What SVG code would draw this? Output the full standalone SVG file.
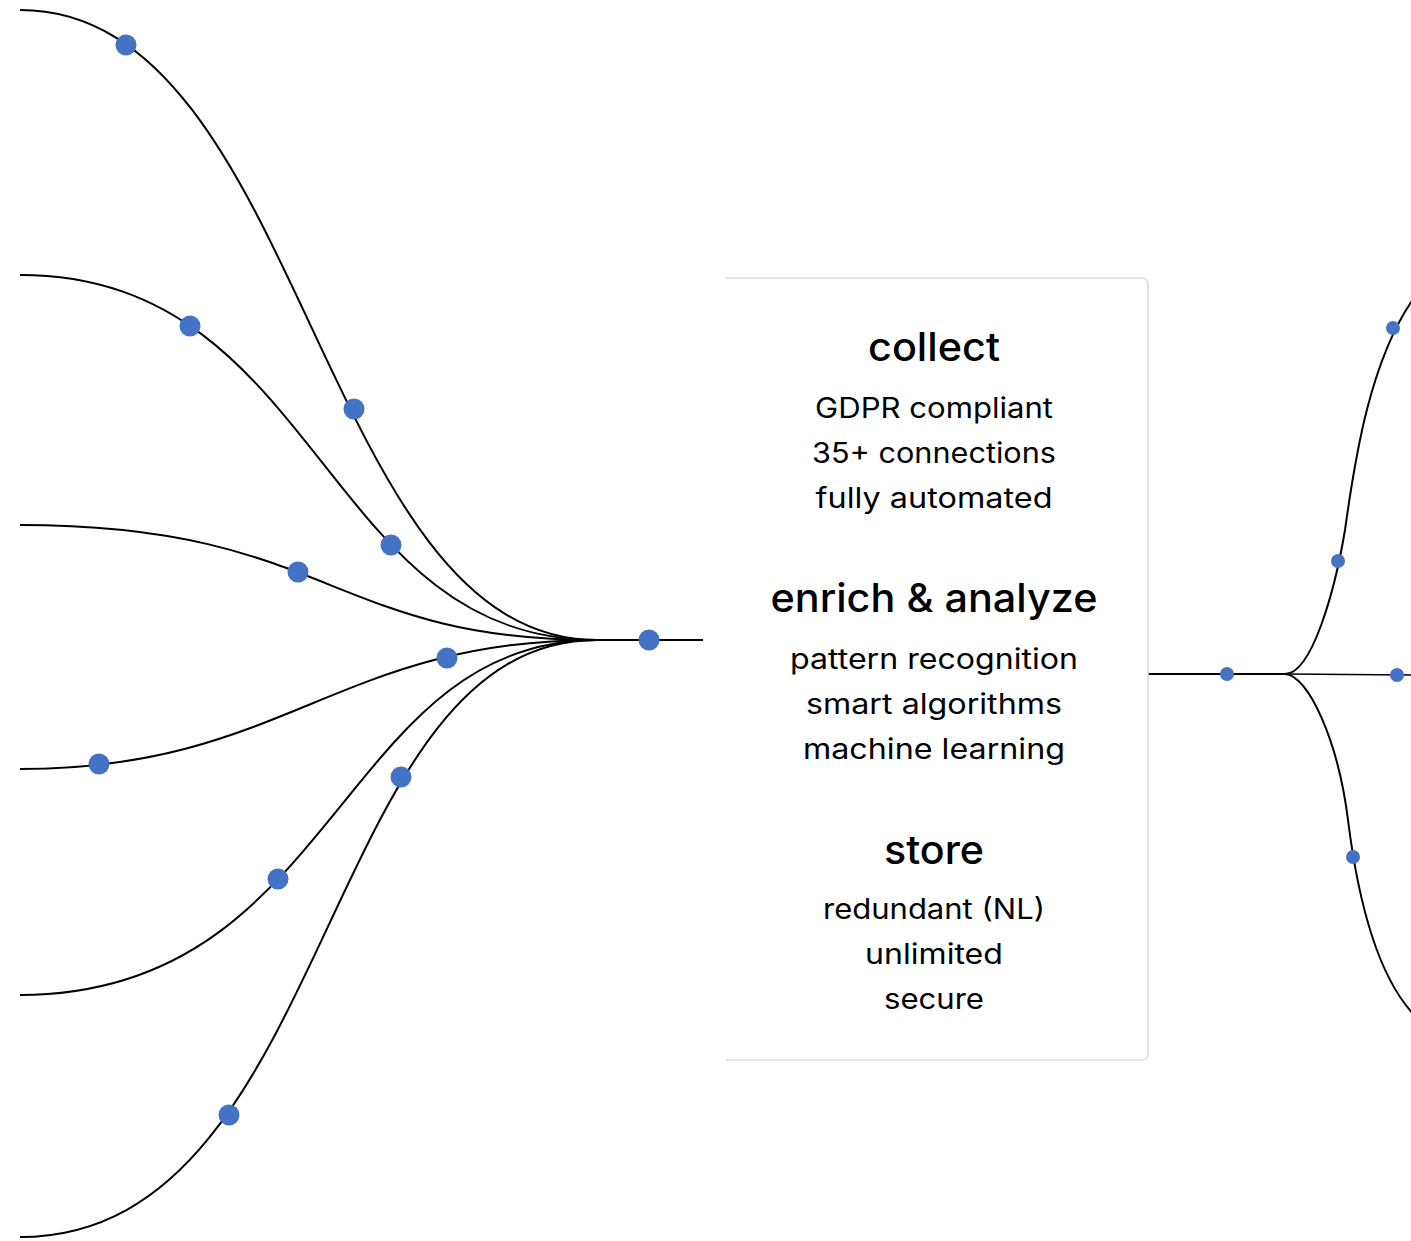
<svg xmlns="http://www.w3.org/2000/svg" width="1411" height="1241" viewBox="0 0 1411 1241">
<style>
.ln{fill:none;stroke:#000;stroke-width:2}
.dot{fill:#4472C4}
.ttl{font-family:Inter,"Noto Sans","Liberation Sans",sans-serif;font-size:39px;font-weight:500;fill:#000;text-anchor:middle}
.txt{font-family:Inter,"Noto Sans","Liberation Sans",sans-serif;font-size:28px;font-weight:400;fill:#000;text-anchor:middle}
.box{fill:#fff;stroke:#dcdcdc;stroke-width:1.5}
</style>
<rect width="1411" height="1241" fill="#fff"/>
<g id="connectors">
<path class="ln" d="M20,10 C305,10 317,640 597,640"/>
<path class="ln" d="M20,275 C322,275 321,640 597,640"/>
<path class="ln" d="M20,525 C329,525 329,640 597,640"/>
<path class="ln" d="M20,769 C285,769 335,640 597,640"/>
<path class="ln" d="M20,995 C339,995 339,640 597,640"/>
<path class="ln" d="M20,1237 C336,1237 318,640 597,640"/>
<path class="ln" d="M597,640 H703"/>
<path class="ln" d="M1148,674 H1285"/>
<path class="ln" d="M1285,674 C1312,674 1335,590 1345,530 C1353,474 1368,355 1420,290"/>
<path class="ln" style="stroke-width:1.6" d="M1285,674 L1411,675"/>
<path class="ln" d="M1285,674 C1308,675 1338,740 1348,820 C1356,884 1375,985 1425,1025"/>
</g>
<g id="left-dots">
<circle class="dot" cx="126" cy="45" r="10.5"/>
<circle class="dot" cx="354" cy="409" r="10.5"/>
<circle class="dot" cx="190" cy="326" r="10.5"/>
<circle class="dot" cx="391" cy="545" r="10.5"/>
<circle class="dot" cx="298" cy="572" r="10.5"/>
<circle class="dot" cx="447" cy="658" r="10.5"/>
<circle class="dot" cx="99" cy="764" r="10.5"/>
<circle class="dot" cx="278" cy="879" r="10.5"/>
<circle class="dot" cx="401" cy="777" r="10.5"/>
<circle class="dot" cx="229" cy="1115" r="10.5"/>
<circle class="dot" cx="649" cy="640" r="10.5"/>
</g>
<g id="right-dots">
<circle class="dot" cx="1227" cy="674" r="7"/>
<circle class="dot" cx="1338" cy="561" r="7"/>
<circle class="dot" cx="1393" cy="328" r="7"/>
<circle class="dot" cx="1397" cy="675" r="7"/>
<circle class="dot" cx="1353" cy="857" r="7"/>
</g>
<g id="box">
<path class="box" d="M726,278 H1142 A6,6 0 0 1 1148,284 V1054 A6,6 0 0 1 1142,1060 H726"/>
<text class="ttl" x="934" y="361" textLength="132" lengthAdjust="spacingAndGlyphs">collect</text>
<text class="txt" x="934" y="418" textLength="238" lengthAdjust="spacingAndGlyphs">GDPR compliant</text>
<text class="txt" x="934" y="463" textLength="244" lengthAdjust="spacingAndGlyphs">35+ connections</text>
<text class="txt" x="934" y="508" textLength="237" lengthAdjust="spacingAndGlyphs">fully automated</text>
<text class="ttl" x="934" y="612" textLength="327" lengthAdjust="spacingAndGlyphs">enrich &amp; analyze</text>
<text class="txt" x="934" y="669" textLength="288" lengthAdjust="spacingAndGlyphs">pattern recognition</text>
<text class="txt" x="934" y="714" textLength="256" lengthAdjust="spacingAndGlyphs">smart algorithms</text>
<text class="txt" x="934" y="759" textLength="262" lengthAdjust="spacingAndGlyphs">machine learning</text>
<text class="ttl" x="934" y="864" textLength="100" lengthAdjust="spacingAndGlyphs">store</text>
<text class="txt" x="934" y="919" textLength="222" lengthAdjust="spacingAndGlyphs">redundant (NL)</text>
<text class="txt" x="934" y="964" textLength="138" lengthAdjust="spacingAndGlyphs">unlimited</text>
<text class="txt" x="934" y="1009" textLength="100" lengthAdjust="spacingAndGlyphs">secure</text>
</g>
</svg>
